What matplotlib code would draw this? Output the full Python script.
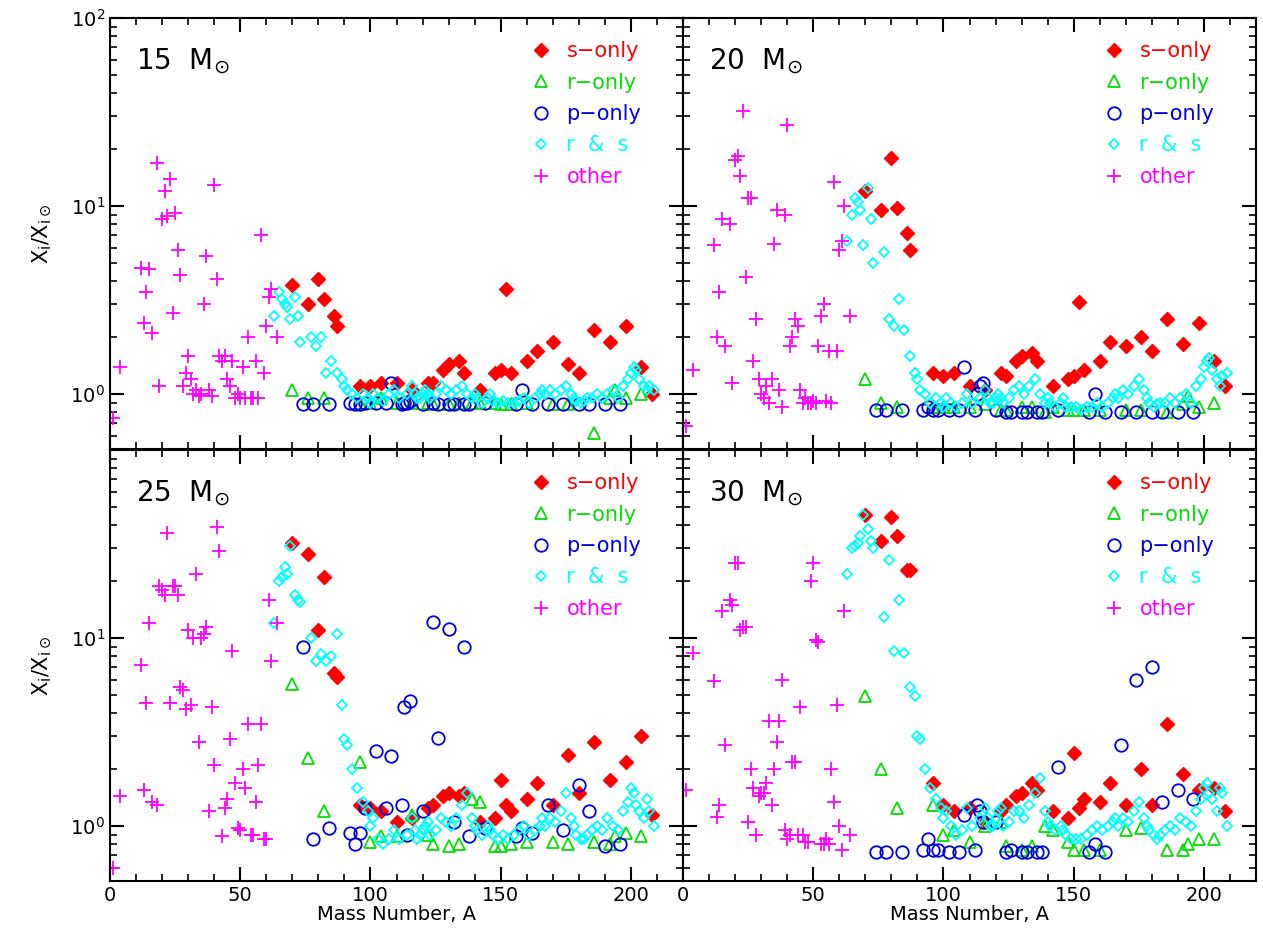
import matplotlib
matplotlib.use("Agg")
import matplotlib.pyplot as plt
from matplotlib.ticker import LogLocator, MultipleLocator, NullFormatter, FixedLocator

masses = ["15", "20", "25", "30"]

A_s = [70,76,80,82,86,87,96,100,104,110,116,122,124,128,130,134,136,142,148,150,152,154,160,164,170,176,180,186,192,198,204,208]
s_vals = [
 [3.8,3.0,4.1,3.2,2.6,2.3,1.1,1.1,1.15,1.15,1.05,1.15,1.15,1.35,1.45,1.5,1.3,1.05,1.3,1.35,3.6,1.3,1.5,1.7,1.9,1.45,1.3,2.2,1.9,2.3,1.4,1.0],
 [12,9.5,18,9.8,7.2,5.8,1.3,1.25,1.3,1.1,1.05,1.3,1.25,1.5,1.6,1.65,1.5,1.1,1.2,1.25,3.1,1.35,1.5,1.9,1.8,2.0,1.7,2.5,1.85,2.4,1.5,1.1],
 [32,28,11,21,6.5,6.2,1.3,1.25,1.2,1.05,1.1,1.25,1.3,1.45,1.5,1.45,1.5,1.05,1.1,1.75,1.3,1.2,1.4,1.7,1.3,2.4,1.5,2.8,1.75,2.2,3.0,1.15],
 [45,33,44,35,23,23,1.7,1.3,1.2,1.25,1.05,1.2,1.3,1.45,1.5,1.7,1.55,1.2,1.1,2.45,1.25,1.4,1.35,1.7,1.3,2.0,1.3,3.5,1.9,1.55,1.6,1.2],
]

A_r = [70,76,82,96,100,104,110,116,122,124,130,134,139,142,148,150,154,160,170,176,186,192,194,198,204]
r_vals = [
 [1.05,0.95,0.95,0.9,0.9,0.95,0.9,0.9,0.9,0.88,0.88,0.9,0.9,0.9,0.9,0.88,0.88,0.9,0.88,0.88,0.62,0.95,1.05,0.95,1.0],
 [1.2,0.9,0.85,0.85,0.85,0.85,0.85,0.88,0.82,0.82,0.85,0.85,0.8,0.85,0.82,0.82,0.82,0.82,0.82,0.82,0.8,0.88,0.98,0.85,0.9],
 [5.7,2.3,1.2,2.2,0.82,0.88,0.88,1.15,0.9,0.8,0.78,0.8,1.4,1.35,0.78,0.78,0.8,0.82,0.82,0.8,0.82,0.8,0.88,0.92,0.88],
 [4.9,2.0,1.25,1.3,0.9,0.95,0.82,1.0,1.05,0.78,0.75,0.78,1.0,0.95,0.82,0.75,0.75,0.75,0.95,0.98,0.75,0.75,0.8,0.85,0.85],
]

A_p = [74,78,84,92,94,96,98,102,106,108,112,113,114,115,120,124,126,130,132,136,138,144,156,158,162,168,174,180,184,190,196]
p_vals = [
 [0.88,0.88,0.88,0.9,0.88,0.88,0.9,0.9,0.9,1.15,0.88,0.9,0.9,0.92,0.88,0.9,0.88,0.88,0.88,0.88,0.88,0.9,0.88,1.05,0.88,0.88,0.88,0.88,0.88,0.88,0.88],
 [0.82,0.82,0.82,0.82,0.85,0.82,0.82,0.82,0.82,1.4,0.82,1.0,1.1,1.15,0.82,0.8,0.8,0.8,0.8,0.8,0.8,0.82,0.8,1.0,0.8,0.8,0.8,0.8,0.8,0.8,0.8],
 [9.0,0.85,0.98,0.92,0.8,0.92,1.25,2.5,1.25,2.35,1.3,4.3,0.9,4.6,1.2,12.2,2.95,11.2,1.05,9.0,0.88,0.98,0.88,0.98,0.92,1.3,0.95,1.65,1.2,0.78,0.8],
 [0.73,0.73,0.73,0.75,0.85,0.75,0.75,0.73,0.73,1.15,0.75,1.3,1.2,1.05,1.05,0.73,0.75,0.73,0.73,0.73,0.73,2.05,0.73,0.8,0.73,2.7,6.0,7.0,1.35,1.55,1.4],
]

A_rs = [63,65,66,67,68,69,71,72,73,77,79,81,83,85,87,89,90,91,93,95,97,99,100,101,103,105,107,109,111,114,116,117,118,119,120,121,122,123,125,127,129,131,133,135,137,139,140,141,143,145,146,147,149,151,153,155,157,159,161,163,165,166,167,169,171,173,175,177,178,179,181,182,183,185,187,189,191,193,195,197,199,200,201,202,203,205,206,207,209]
rs_vals = [
 [2.6,3.5,3.2,3.0,2.9,2.5,3.3,2.6,1.9,2.0,1.8,2.0,1.3,1.5,1.3,1.2,1.1,1.05,1.0,0.95,1.0,0.95,0.9,1.0,0.95,0.92,1.0,1.05,0.95,1.0,1.1,1.0,0.95,0.95,1.0,1.05,1.0,0.95,1.0,1.1,1.05,1.0,1.05,1.1,1.0,0.95,1.0,0.95,0.9,0.95,1.0,0.92,0.9,0.92,0.9,0.9,0.92,0.95,0.9,0.95,1.0,1.05,1.0,1.05,1.0,1.05,1.1,1.0,0.95,0.92,0.9,0.92,0.95,0.95,1.0,0.95,1.0,1.05,0.95,1.1,1.2,1.3,1.4,1.35,1.2,1.1,1.05,1.1,1.05],
 [6.5,9.0,11,10.5,9.5,6.2,12.5,8.5,5.0,5.7,2.5,2.3,3.2,2.2,1.6,1.3,1.2,1.05,1.0,0.9,0.95,0.9,0.85,0.95,0.9,0.85,0.9,1.0,0.9,0.95,1.05,0.95,0.9,0.9,0.95,1.0,0.95,0.9,0.95,1.05,1.1,1.0,1.1,1.2,1.0,0.9,0.95,0.9,0.85,0.9,0.95,0.85,0.85,0.85,0.82,0.85,0.85,0.9,0.85,0.9,0.95,1.0,0.95,1.05,1.0,1.1,1.2,1.05,0.95,0.9,0.85,0.88,0.9,0.9,0.95,0.9,0.95,1.0,0.9,1.1,1.2,1.4,1.5,1.55,1.35,1.2,1.1,1.25,1.3],
 [12,20,21,24,22,31,17,16,15.5,10,7.5,8.2,7.5,8.0,10.5,4.4,2.9,2.7,2.0,1.6,1.35,1.2,1.0,1.1,0.85,0.8,0.85,0.95,0.85,0.9,1.1,0.95,0.85,0.9,0.95,1.0,1.05,0.9,0.95,1.1,1.05,1.0,1.1,1.3,1.5,1.1,1.0,0.95,0.9,1.0,0.95,0.9,0.85,0.9,0.85,0.9,0.95,1.0,0.9,0.95,1.0,1.1,1.0,1.1,1.05,1.2,1.5,1.1,1.0,0.9,0.85,0.85,0.9,0.95,1.0,0.95,1.1,1.0,0.95,1.2,1.35,1.6,1.5,1.3,1.2,1.1,1.4,1.2,1.0],
 [22,30,31,32,35,45,38,33,30,13,26,8.5,16,8.3,5.5,4.9,3.0,2.9,2.0,1.6,1.4,1.25,1.1,1.2,1.0,0.9,0.95,1.25,1.0,1.1,1.25,1.1,1.0,1.0,1.1,1.2,1.25,1.0,1.05,1.2,1.2,1.1,1.3,1.5,1.8,1.2,1.05,1.0,0.95,1.0,0.95,0.9,0.85,0.85,0.85,0.9,0.95,1.0,0.95,1.0,1.05,1.1,1.0,1.1,1.05,1.2,1.35,1.1,1.0,0.95,0.9,0.85,0.9,0.95,1.0,0.95,1.1,1.05,1.0,1.2,1.4,1.6,1.7,1.5,1.4,1.2,1.6,1.5,1.0],
]

A_o = [1,4,12,13,14,15,16,18,19,20,21,22,23,24,25,26,27,28,29,30,31,32,33,34,35,36,37,38,39,40,41,42,43,44,45,46,47,48,49,50,51,52,53,54,55,56,57,58,59,60,61,62,64]
o_vals = [
 [0.75,1.4,4.7,2.4,3.5,4.6,2.1,17,1.1,8.5,12,8.8,14,2.7,9.2,5.8,4.3,1.1,1.3,1.6,1.2,1.0,1.05,0.98,1.0,3.0,5.4,1.05,0.98,13,4.1,1.6,1.5,1.6,1.2,1.1,1.5,0.95,1.0,0.95,1.4,0.95,2.0,0.95,0.95,1.5,0.95,7.0,1.3,2.3,3.3,3.6,2.0],
 [0.68,1.35,6.2,2.0,3.5,8.5,1.8,8.0,1.15,17.5,18.5,14.5,32,4.2,11,11,1.5,2.5,1.2,1.0,0.95,1.1,0.9,1.2,6.3,9.5,1.05,0.85,9.0,27,1.8,2.0,2.5,2.3,1.05,0.9,0.95,0.9,0.9,0.92,0.9,1.8,2.6,3.0,0.92,1.7,0.9,13.5,1.7,5.8,6.5,10,2.6],
 [0.6,1.45,7.2,1.55,4.5,12,1.35,1.3,19,18,17,36,4.5,19,19,17,5.5,5.3,4.2,11,4.4,10,22,2.8,10,10.5,11.5,1.2,4.3,2.1,39,29,0.88,1.25,1.4,2.9,8.5,1.7,0.98,0.95,2.0,1.6,3.5,0.9,0.9,1.35,2.1,3.5,0.85,0.85,16,7.5,12],
 [1.55,8.3,5.9,1.12,1.3,14,2.7,16,15,25,25,11,11.5,11.5,1.05,2.0,1.6,0.9,1.45,1.5,1.5,1.7,3.6,1.3,2.0,2.8,3.6,6.0,0.95,0.85,0.9,2.2,2.2,0.9,4.3,0.9,0.82,0.82,20,25,9.8,9.5,0.8,0.8,0.85,0.8,2.0,1.35,4.4,1.0,0.75,14,0.9],
]

fig = plt.figure(figsize=(12.63, 9.49), dpi=100)
L, W = 110/1263, 573/1263
T, M, B = 1-18/949, 1-449/949, 1-881/949
H = T - M
pos = [(L, M), (L+W, M), (L, B), (L+W, B)]

for i in range(4):
    ax = fig.add_axes([pos[i][0], pos[i][1], W, H])
    ax.set_yscale('log')
    ax.set_xlim(0, 220)
    ax.set_ylim(0.51, 100)
    ax.plot(A_s, s_vals[i], 'D', color='red', ms=7, ls='none', label='s\u2212only')
    ax.plot(A_r, r_vals[i], '^', mfc='none', mec='#00e000', mew=1.3, ms=9, ls='none', label='r\u2212only')
    ax.plot(A_p, p_vals[i], 'o', mfc='none', mec='#0000dd', mew=1.3, ms=9, ls='none', label='p\u2212only')
    ax.plot(A_rs, rs_vals[i], 'D', mfc='none', mec='cyan', mew=1.3, ms=5.5, ls='none', label='r  &  s')
    ax.plot(A_o, o_vals[i], '+', color='magenta', mew=1.3, ms=10, ls='none', label='other')
    leg = ax.legend(loc='upper right', bbox_to_anchor=(0.96, 0.99), frameon=False,
                    fontsize=15, handletextpad=0.6, labelspacing=0.55, handlelength=1.2)
    for t, c in zip(leg.get_texts(), ['red', '#00e000', '#0000dd', 'cyan', 'magenta']):
        t.set_color(c)
    ax.text(0.045, 0.9, masses[i] + r'  M$_{\odot}$', transform=ax.transAxes,
            fontsize=20, va='center')
    ax.xaxis.set_major_locator(MultipleLocator(50))
    ax.xaxis.set_minor_locator(MultipleLocator(10))
    if i < 2:
        ax.yaxis.set_major_locator(FixedLocator([1, 10, 100]))
    else:
        ax.yaxis.set_major_locator(FixedLocator([1, 10]))
    ax.yaxis.set_minor_locator(LogLocator(base=10, subs=range(2, 10), numticks=20))
    ax.yaxis.set_minor_formatter(NullFormatter())
    ax.tick_params(which='both', direction='in', top=True, right=True, labelsize=14)
    ax.tick_params(which='major', length=10, width=1.5)
    ax.tick_params(which='minor', length=5, width=1.2)
    for s in ax.spines.values():
        s.set_linewidth(1.5)
    if i in (1, 3):
        ax.tick_params(axis='y', labelleft=False)
    else:
        ax.set_ylabel(r'X$_{\rm i}$/X$_{\rm i\odot}$', fontsize=15, labelpad=12)
    if i in (0, 1):
        ax.tick_params(axis='x', labelbottom=False)
    else:
        ax.set_xlabel('Mass Number, A', fontsize=14, labelpad=0)
    ax.set_ylim(0.51, 100)

fig.savefig('out.png', dpi=100)
